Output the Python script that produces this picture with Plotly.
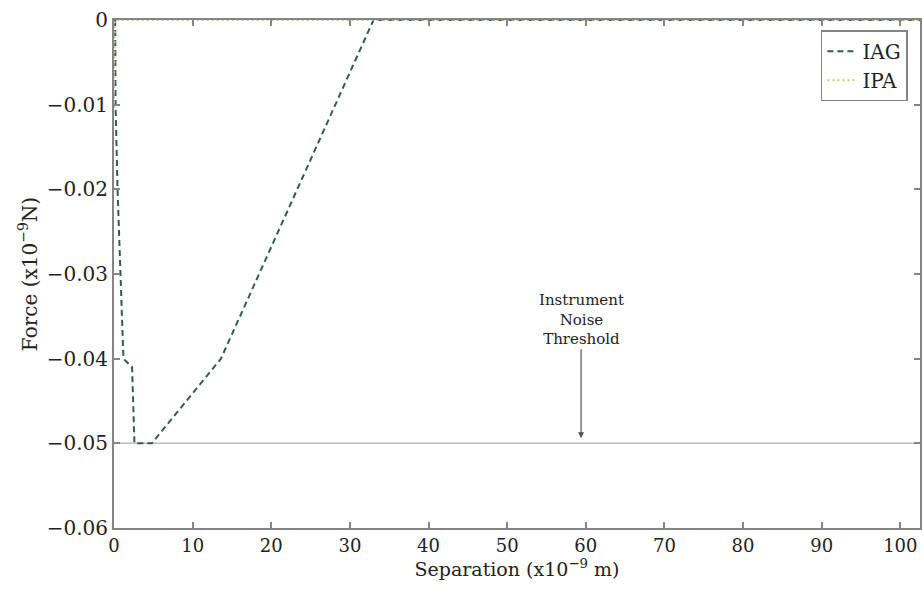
import plotly.graph_objects as go

# ---- data ----
iag_sep = [0.15, 0.2, 0.45, 0.8, 1.2, 2.3, 2.6, 4.8, 13.6, 33.0, 102.5]
iag_force = [0.0, -0.01, -0.02, -0.03, -0.04, -0.041, -0.05, -0.05, -0.04, 0.0, 0.0]

ipa_sep = [0.0, 0.1, 102.5]
ipa_force = [-0.011, 0.0, 0.0]

threshold_sep = [0.0, 102.5]
threshold_force = [-0.05, -0.05]

x_ticks = [0, 10, 20, 30, 40, 50, 60, 70, 80, 90, 100]
x_ticklabels = ["0", "10", "20", "30", "40", "50", "60", "70", "80", "90", "100"]
y_ticks = [0, -0.01, -0.02, -0.03, -0.04, -0.05, -0.06]
y_ticklabels = ["0", "\u22120.01", "\u22120.02", "\u22120.03", "\u22120.04", "\u22120.05", "\u22120.06"]

annot_x = 59.4
annot_y = -0.05

FONT = "DejaVu Serif"
AXIS_COLOR = "#858585"

fig = go.Figure()

fig.add_trace(go.Scatter(
    x=threshold_sep, y=threshold_force, mode="lines",
    line=dict(color="#bdbdbd", width=1.5), showlegend=False, hoverinfo="skip"))

fig.add_trace(go.Scatter(
    x=iag_sep, y=iag_force, mode="lines", name="IAG",
    line=dict(color="#2f5d50", width=2, dash="6px,4px")))

fig.add_trace(go.Scatter(
    x=ipa_sep, y=ipa_force, mode="lines", name="IPA",
    line=dict(color="#c9c97a", width=2, dash="2px,3px")))

fig.add_annotation(
    x=annot_x, y=annot_y, xref="x", yref="y",
    text="Instrument<br>Noise<br>Threshold",
    showarrow=True, arrowhead=2, arrowsize=1, arrowwidth=1.2,
    arrowcolor="#555555", ax=0, ay=-124, standoff=5,
    font=dict(family=FONT, size=15, color="#222222"))

fig.update_layout(
    width=922, height=592,
    margin=dict(l=114, r=0, t=20, b=64),
    paper_bgcolor="white", plot_bgcolor="white",
    font=dict(family=FONT, size=18, color="#222222"),
    legend=dict(
        x=0.985, y=0.98, xanchor="right", yanchor="top",
        bgcolor="white", bordercolor=AXIS_COLOR, borderwidth=1.5,
        font=dict(family=FONT, size=20, color="#222222"),
        tracegroupgap=0, itemwidth=30),
)

fig.update_xaxes(
    range=[0, 102.5], tickvals=x_ticks, ticktext=x_ticklabels,
    ticks="inside", ticklen=6, tickwidth=1.5, tickcolor=AXIS_COLOR,
    showline=True, linecolor=AXIS_COLOR, linewidth=2, mirror="ticks",
    showgrid=False, zeroline=False,
    tickfont=dict(family=FONT, size=18),
    title=dict(text="Separation (x10<sup>\u22129</sup> m)",
               font=dict(family=FONT, size=19), standoff=8))

fig.update_yaxes(
    range=[-0.06, 0], tickvals=y_ticks, ticktext=y_ticklabels,
    ticks="inside", ticklen=6, tickwidth=1.5, tickcolor=AXIS_COLOR,
    showline=True, linecolor=AXIS_COLOR, linewidth=2, mirror="ticks",
    showgrid=False, zeroline=False,
    tickfont=dict(family=FONT, size=20),
    title=dict(text="Force (x10<sup>\u22129</sup>N)",
               font=dict(family=FONT, size=20), standoff=4))

fig.write_html("out.html")
